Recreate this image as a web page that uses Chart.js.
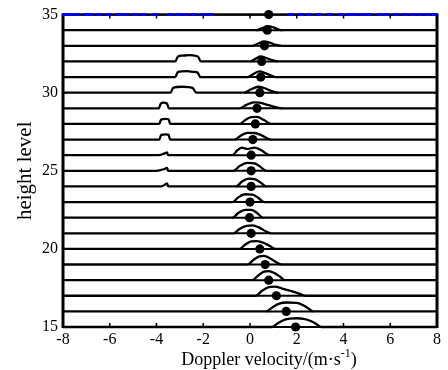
<!DOCTYPE html>
<html>
<head>
<meta charset="utf-8">
<script src="https://cdn.jsdelivr.net/npm/chart.js@4.4.0/dist/chart.umd.min.js"></script>
<style>
  html, body { margin: 0; padding: 0; background: #fff; }
</style>
</head>
<body>
<canvas id="spectraChart" width="448" height="370"></canvas>
<script>
// height levels, bottom to top
const levels = [15, 16, 17, 18, 19, 20, 21, 22, 23, 24, 25, 26, 27, 28, 29, 30, 31, 32, 33, 34, 35];

// mean Doppler velocity (black dots), one per level
const peakVel = [1.95, 1.55, 1.13, 0.8, 0.65, 0.42, 0.05, -0.02, 0.0, 0.05, 0.05, 0.05,
                 0.12, 0.23, 0.3, 0.42, 0.46, 0.5, 0.62, 0.74, 0.8];

// main echo of each spectrum: [velocity, rise above the level]
const mainHumps = [
  [[0.95, 0], [1.15, 0.2], [1.4, 0.42], [1.7, 0.53], [2.0, 0.56], [2.3, 0.52], [2.6, 0.38], [2.85, 0.18], [3.05, 0]],
  [[0.7, 0], [0.95, 0.25], [1.25, 0.5], [1.6, 0.57], [2.0, 0.55], [2.3, 0.38], [2.5, 0.18], [2.7, 0]],
  [[0.25, 0], [0.5, 0.3], [0.8, 0.55], [1.05, 0.58], [1.35, 0.48], [1.7, 0.33], [2.1, 0.14], [2.4, 0]],
  [[0.1, 0], [0.35, 0.3], [0.6, 0.55], [0.8, 0.58], [1.05, 0.45], [1.3, 0.2], [1.5, 0]],
  [[-0.1, 0], [0.15, 0.3], [0.4, 0.52], [0.6, 0.55], [0.85, 0.4], [1.1, 0.17], [1.35, 0]],
  [[-0.45, 0], [-0.2, 0.28], [0.05, 0.48], [0.3, 0.5], [0.6, 0.38], [0.85, 0.18], [1.1, 0]],
  [[-0.7, 0], [-0.45, 0.28], [-0.15, 0.48], [0.1, 0.5], [0.4, 0.36], [0.65, 0.15], [0.9, 0]],
  [[-0.75, 0], [-0.5, 0.3], [-0.2, 0.5], [0.05, 0.5], [0.3, 0.3], [0.55, 0]],
  [[-0.75, 0], [-0.5, 0.3], [-0.2, 0.5], [0.1, 0.48], [0.35, 0.28], [0.6, 0]],
  [[-0.6, 0], [-0.35, 0.3], [-0.05, 0.5], [0.2, 0.47], [0.45, 0.25], [0.7, 0]],
  [[-0.7, 0], [-0.45, 0.3], [-0.1, 0.51], [0.2, 0.48], [0.45, 0.25], [0.7, 0]],
  [[-0.75, 0], [-0.55, 0.3], [-0.35, 0.48], [-0.1, 0.4], [0.2, 0.49], [0.5, 0.3], [0.85, 0]],
  [[-0.65, 0], [-0.4, 0.25], [-0.1, 0.43], [0.2, 0.42], [0.5, 0.27], [0.9, 0]],
  [[-0.45, 0], [-0.2, 0.25], [0.05, 0.43], [0.3, 0.45], [0.6, 0.25], [0.9, 0]],
  [[-0.45, 0], [-0.15, 0.22], [0.15, 0.38], [0.4, 0.37], [0.8, 0.2], [1.4, 0]],
  [[-0.25, 0], [0.05, 0.22], [0.35, 0.38], [0.6, 0.3], [0.9, 0.12], [1.2, 0]],
  [[-0.1, 0], [0.15, 0.2], [0.4, 0.36], [0.65, 0.25], [0.9, 0.1], [1.1, 0]],
  [[0.0, 0], [0.25, 0.18], [0.45, 0.32], [0.7, 0.22], [0.95, 0.08], [1.2, 0]],
  [[0.1, 0], [0.35, 0.15], [0.6, 0.28], [0.85, 0.2], [1.1, 0.07], [1.35, 0]],
  [[0.27, 0], [0.5, 0.12], [0.75, 0.26], [1.0, 0.18], [1.2, 0.06], [1.4, 0]],
  []
];

// secondary echoes on the negative side
const leftBumpLevels = [24, 25, 26, 27, 28, 29, 30, 31, 32];
const leftBumps = [
  [[-3.8, 0], [-3.6, 0.15], [-3.55, 0.2], [-3.5, 0]],
  [[-4.0, 0], [-3.65, 0.12], [-3.55, 0.18], [-3.5, 0]],
  [[-3.9, 0], [-3.65, 0.12], [-3.55, 0.18], [-3.5, 0]],
  [[-3.88, 0], [-3.8, 0.3], [-3.6, 0.33], [-3.48, 0.3], [-3.42, 0]],
  [[-3.88, 0], [-3.8, 0.3], [-3.6, 0.32], [-3.48, 0.3], [-3.42, 0]],
  [[-3.9, 0], [-3.82, 0.3], [-3.7, 0.37], [-3.55, 0.3], [-3.47, 0]],
  [[-3.4, 0], [-3.28, 0.33], [-2.9, 0.38], [-2.6, 0.35], [-2.45, 0.3], [-2.3, 0]],
  [[-3.2, 0], [-3.08, 0.33], [-2.7, 0.38], [-2.4, 0.33], [-2.25, 0.3], [-2.12, 0]],
  [[-3.2, 0], [-3.08, 0.32], [-2.9, 0.37], [-2.6, 0.4], [-2.3, 0.35], [-2.22, 0.3], [-2.1, 0]]
];

// blue marks along the top level
const blueMarkVel = [-7.9, -7.7, -7.4, -7.0, -6.8, -6.45, -6.05, -5.6, -5.3, -4.9, -4.55, -4.05,
                     -3.4, -3.05, -2.75, -2.4, -2.0, -1.7,
                     1.75, 2.18, 2.52, 2.95, 3.42, 3.9, 4.25, 4.48, 4.8, 5.1, 5.55, 5.85,
                     6.25, 6.62, 6.95, 7.28, 7.6, 7.9];

const xTicks = [-8, -6, -4, -2, 0, 2, 4, 6, 8];
const yTicks = [15, 20, 25, 30, 35];
const xTitleMain = 'Doppler velocity/(m·s';
const xTitleSup = '-1';

const serif = '"Liberation Serif", "Times New Roman", serif';

function spectrumPoints(level, i) {
  const pts = [{ x: -8, y: level }];
  const extra = [];
  const li = leftBumpLevels.indexOf(level);
  if (li >= 0) extra.push(...leftBumps[li]);
  extra.push(...mainHumps[i]);
  extra.sort((a, b) => a[0] - b[0]);
  extra.forEach(p => pts.push({ x: p[0], y: level + p[1] }));
  pts.push({ x: 8, y: level });
  return pts;
}

function underLinePoints() {
  const pts = [];
  levels.forEach((level, i) => {
    const h = mainHumps[i];
    if (!h.length) return;
    pts.push({ x: h[0][0], y: level }, { x: h[h.length - 1][0], y: level }, { x: h[h.length - 1][0], y: null });
  });
  return pts;
}

// higher "order" is drawn first (underneath)
const datasets = levels.map((level, i) => ({
  data: spectrumPoints(level, i),
  order: 3,
  showLine: true,
  borderColor: '#000',
  borderWidth: 2.3,
  pointRadius: 0,
  cubicInterpolationMode: 'monotone',
  clip: 4
}));

datasets.push({
  data: underLinePoints(),
  order: 2,
  showLine: true,
  spanGaps: false,
  borderColor: '#000',
  borderWidth: 2,
  pointRadius: 0,
  clip: 4
});

datasets.push({
  data: blueMarkVel.map(v => ({ x: v, y: 35 })),
  order: 1,
  showLine: false,
  pointStyle: 'line',
  pointRadius: 3,
  pointBorderColor: '#0000ff',
  pointBorderWidth: 3,
  clip: 4
});

datasets.push({
  data: levels.map((level, i) => ({ x: peakVel[i], y: level })),
  order: 0,
  showLine: false,
  pointRadius: 4.6,
  pointBackgroundColor: '#000',
  pointBorderWidth: 0,
  clip: 6
});

// axis box with inward ticks, drawn under the spectra
const framePlugin = {
  id: 'frame',
  beforeDatasetsDraw(chart) {
    const { ctx, chartArea: a, scales } = chart;
    ctx.save();
    ctx.strokeStyle = '#000';
    ctx.lineWidth = 2;
    ctx.strokeRect(a.left, a.top, a.right - a.left, a.bottom - a.top);
    ctx.lineWidth = 3;
    ctx.beginPath();
    ctx.moveTo(a.left, a.top - 1);
    ctx.lineTo(a.left, a.bottom + 1);
    ctx.moveTo(a.right, a.top - 1);
    ctx.lineTo(a.right, a.bottom + 1);
    ctx.stroke();
    ctx.lineWidth = 1.5;
    ctx.beginPath();
    xTicks.forEach(t => {
      const x = scales.x.getPixelForValue(t);
      ctx.moveTo(x, a.top);
      ctx.lineTo(x, a.top + 4);
      ctx.moveTo(x, a.bottom);
      ctx.lineTo(x, a.bottom - 4);
    });
    yTicks.forEach(t => {
      const y = scales.y.getPixelForValue(t);
      ctx.moveTo(a.left, y);
      ctx.lineTo(a.left + 4, y);
      ctx.moveTo(a.right, y);
      ctx.lineTo(a.right - 4, y);
    });
    ctx.stroke();
    ctx.restore();
  }
};

// x title with a raised "-1"
const xTitlePlugin = {
  id: 'xTitle',
  afterDraw(chart) {
    const { ctx, chartArea: a } = chart;
    const mainFont = '18px ' + serif;
    const supFont = '12px ' + serif;
    ctx.save();
    ctx.fillStyle = '#000';
    ctx.textBaseline = 'alphabetic';
    ctx.textAlign = 'left';
    ctx.font = mainFont;
    const w1 = ctx.measureText(xTitleMain).width;
    const w3 = ctx.measureText(')').width;
    ctx.font = supFont;
    const w2 = ctx.measureText(xTitleSup).width;
    const baseY = chart.height - 5;
    let x = (a.left + a.right) / 2 + 19 - (w1 + w2 + w3) / 2;
    ctx.font = mainFont;
    ctx.fillText(xTitleMain, x, baseY);
    x += w1;
    ctx.font = supFont;
    ctx.fillText(xTitleSup, x, baseY - 8);
    x += w2;
    ctx.font = mainFont;
    ctx.fillText(')', x, baseY);
    ctx.restore();
  }
};

Chart.defaults.color = '#000';
Chart.defaults.font.family = serif;

new Chart(document.getElementById('spectraChart'), {
  type: 'scatter',
  data: { datasets },
  options: {
    responsive: false,
    animation: false,
    events: [],
    layout: { padding: { top: 14, right: 11, left: 0, bottom: 0 } },
    plugins: { legend: { display: false }, tooltip: { enabled: false } },
    scales: {
      x: {
        type: 'linear', min: -8, max: 8,
        afterFit: s => { s.height = 43; },
        afterBuildTicks: s => { s.ticks = xTicks.map(v => ({ value: v })); },
        grid: { display: false, drawTicks: false },
        border: { display: false },
        ticks: { padding: 3, font: { size: 16 }, maxRotation: 0 },
        title: { display: false }
      },
      y: {
        type: 'linear', min: 15, max: 35,
        afterFit: s => { s.width = 63; },
        afterBuildTicks: s => { s.ticks = yTicks.map(v => ({ value: v })); },
        grid: { display: false, drawTicks: false },
        border: { display: false },
        ticks: { padding: 5, font: { size: 16 } },
        title: { display: true, text: 'height level', font: { size: 21 }, padding: { top: 13, bottom: 0 } }
      }
    }
  },
  plugins: [framePlugin, xTitlePlugin]
});
</script>
</body>
</html>
